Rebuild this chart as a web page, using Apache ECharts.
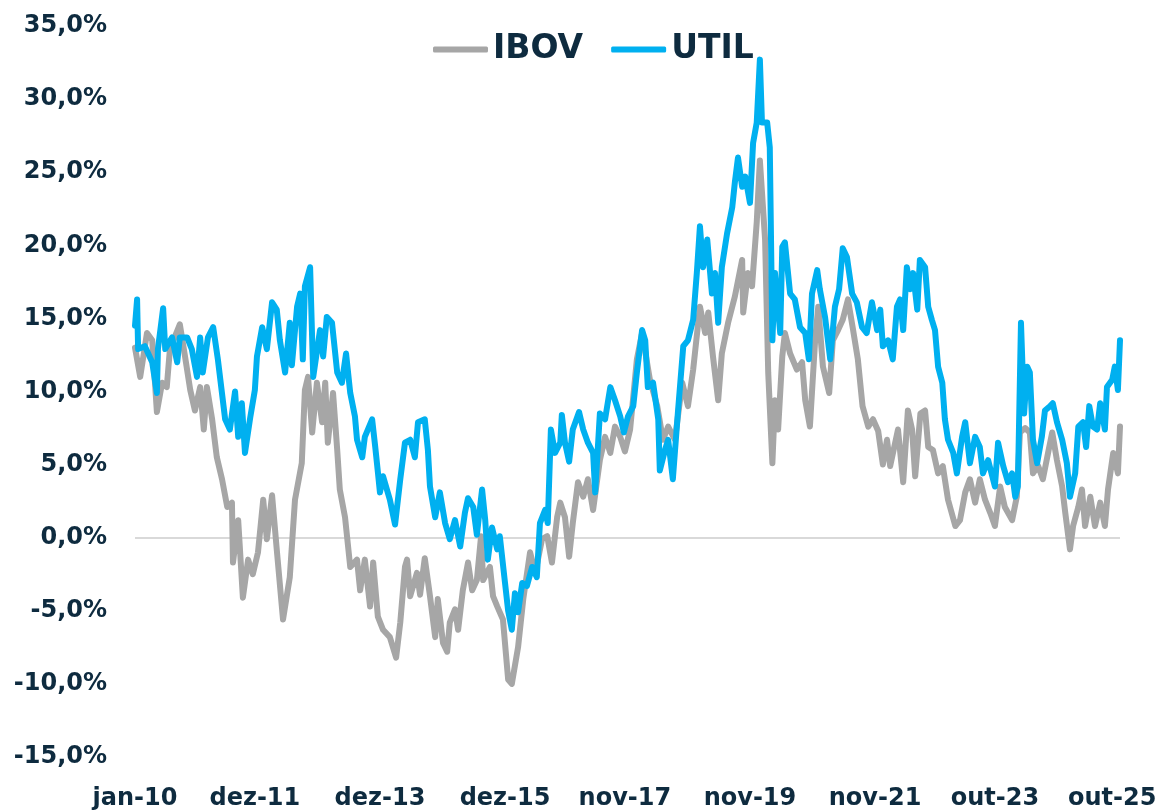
<!DOCTYPE html>
<html>
<head>
<meta charset="utf-8">
<script src="https://cdn.jsdelivr.net/npm/echarts@6/dist/echarts.min.js"></script>
<style>
  html, body { margin: 0; padding: 0; background: #fff; }
  #chart { width: 1171px; height: 811px; }
</style>
</head>
<body>
<div id="chart"></div>
<script>
// x = months since jan-10, y = % value
const tickMonths = [0, 23, 47, 71, 94, 118, 142, 165, 187.5];
const tickLabels = ['jan-10', 'dez-11', 'dez-13', 'dez-15', 'nov-17', 'nov-19', 'nov-21', 'out-23', 'out-25'];

const ibovT = [0, 1.0, 2.3, 3.3, 4.2, 5.2, 6.1, 6.7, 8.6, 9.6, 10.6, 11.5, 12.5, 13.2, 13.8, 14.8, 15.7, 16.7, 17.7, 18.6,
  18.8, 19.8, 20.7, 21.7, 22.6, 23.6, 24.6, 25.3, 26.3, 27.2, 28.4, 29.7, 30.7, 32.0, 32.6, 33.2, 34.0, 34.9, 35.9, 36.5,
  37.0, 38.0, 38.8, 39.3, 40.3, 41.3, 42.6, 43.2, 44.1, 45.1, 45.7, 46.6, 47.6, 48.9, 50.1, 50.9, 51.8, 52.2, 52.8, 54.1,
  54.7, 55.6, 56.6, 57.6, 58.1, 59.1, 59.9, 60.4, 61.4, 62.0, 62.9, 63.9, 64.7, 65.6, 66.4, 66.8, 68.1, 68.7, 69.5, 70.6,
  71.6, 72.3, 73.5, 74.5, 75.8, 76.8, 78.1, 79.1, 80.0, 81.0, 81.6, 82.5, 83.3, 84.0, 85.0, 86.0, 86.9, 87.9, 89.2, 90.2,
  91.2, 92.1, 93.1, 94.0, 95.0, 96.3, 97.3, 98.8, 100.2, 101.3, 102.3, 103.6, 105.0, 106.1, 107.1, 108.4, 109.4, 110.0, 110.9, 111.9,
  112.6, 113.8, 115.1, 116.5, 116.7, 117.6, 118.4, 119.3, 119.9, 120.9, 121.5, 122.3, 122.8, 123.4, 124.2, 124.7, 125.7, 127.0, 128.0, 128.6,
  129.5, 130.5, 131.1, 132.0, 133.2, 133.9, 134.9, 135.8, 136.8, 137.7, 138.7, 139.6, 140.7, 141.6, 142.6, 143.5, 144.3, 144.9, 146.4, 147.4,
  148.3, 149.1, 149.7, 150.7, 151.6, 152.2, 153.1, 154.1, 155.0, 156.0, 157.4, 158.3, 159.3, 160.2, 161.2, 162.1, 163.1, 164.1, 165.0, 166.0,
  166.9, 168.3, 169.2, 169.8, 170.8, 171.7, 172.3, 173.3, 174.2, 175.2, 176.0, 176.9, 177.9, 178.5, 179.4, 180.0, 181.0, 181.7, 182.3, 183.3,
  184.2, 185.2, 186.1, 186.7, 187.7, 188.6, 189.0];
const ibovV = [13.0, 11.0, 14.0, 13.5, 8.6, 10.6, 10.3, 12.9, 14.6, 12.4, 10.1, 8.7, 10.3, 7.4, 10.3, 8.1, 5.5, 4.0, 2.1, 2.4,
  -1.7, 1.2, -4.1, -1.5, -2.5, -1.0, 2.6, -0.1, 2.9, -0.8, -5.6, -2.7, 2.6, 5.1, 10.1, 11.0, 7.2, 10.6, 7.9, 10.6,
  6.5, 9.9, 6.0, 3.3, 1.4, -2.0, -1.5, -3.6, -1.5, -4.7, -1.7, -5.4, -6.3, -6.8, -8.2, -5.8, -2.0, -1.5, -4.0, -2.4,
  -3.9, -1.4, -4.0, -6.8, -4.2, -7.2, -7.8, -5.8, -4.9, -6.3, -3.6, -1.7, -3.6, -2.9, 0.1, -2.9, -2.0, -4.0, -4.7, -5.6,
  -9.7, -10.0, -7.5, -4.2, -1.0, -2.4, -0.1, 0.1, -1.7, 1.4, 2.4, 1.4, -1.3, 1.0, 3.8, 2.8, 4.0, 1.9, 5.3, 6.9,
  5.8, 7.6, 6.9, 5.9, 7.4, 12.2, 14.0, 10.8, 9.0, 6.7, 7.6, 6.7, 10.6, 9.0, 11.5, 15.8, 14.0, 15.4, 12.4, 9.4,
  12.6, 14.7, 16.5, 19.0, 15.4, 18.1, 17.2, 21.6, 25.8, 20.4, 11.3, 5.1, 9.4, 7.4, 12.4, 14.0, 12.6, 11.5, 12.0, 9.4,
  7.6, 13.5, 15.8, 11.7, 9.9, 13.5, 14.2, 14.9, 16.3, 14.4, 12.2, 9.0, 7.6, 8.1, 7.3, 5.0, 6.7, 4.9, 7.4, 3.8,
  8.7, 7.4, 4.2, 8.5, 8.7, 6.2, 6.0, 4.4, 4.9, 2.6, 0.8, 1.2, 3.1, 4.0, 2.4, 4.0, 2.6, 1.7, 0.8, 3.5,
  2.1, 1.2, 2.8, 7.2, 7.5, 7.2, 4.4, 4.9, 4.0, 5.8, 7.2, 5.3, 3.5, 1.7, -0.8, 0.8, 2.1, 3.3, 0.8, 2.8,
  0.8, 2.4, 0.8, 3.3, 5.8, 4.4, 7.6];

const utilT = [0, 0.4, 0.6, 1.9, 3.3, 4.2, 4.4, 5.4, 5.8, 7.1, 8.1, 8.6, 10.0, 10.9, 11.9, 12.5, 13.0, 14.0, 15.0, 15.9,
  17.3, 18.2, 19.2, 19.8, 20.5, 21.1, 22.1, 23.0, 23.4, 24.4, 25.3, 26.3, 27.2, 27.8, 28.8, 29.7, 30.1, 31.1, 31.7, 32.2,
  32.6, 33.6, 34.2, 35.5, 36.1, 36.8, 37.8, 38.8, 39.7, 40.5, 41.3, 42.2, 42.6, 43.6, 44.1, 45.5, 46.1, 46.6, 47.0, 47.6,
  48.9, 49.9, 50.9, 51.8, 52.8, 53.7, 54.3, 55.6, 56.2, 56.6, 57.6, 58.5, 59.5, 60.4, 61.4, 62.4, 63.3, 63.9, 64.9, 65.6,
  66.6, 67.2, 67.7, 68.5, 69.5, 70.0, 71.0, 71.6, 72.3, 72.9, 73.5, 74.3, 75.2, 76.2, 77.1, 77.7, 78.7, 79.2, 79.8, 80.6,
  81.6, 81.9, 82.5, 83.3, 84.0, 85.2, 86.0, 86.9, 87.9, 88.3, 89.2, 90.2, 91.2, 92.1, 93.1, 93.8, 94.6, 95.6, 96.3, 97.3,
  97.9, 98.4, 99.4, 100.4, 100.7, 101.7, 102.3, 103.2, 104.2, 105.2, 106.1, 107.1, 107.8, 108.4, 109.0, 109.8, 110.7, 111.3, 111.9, 112.6,
  113.6, 114.6, 115.1, 115.7, 116.5, 117.1, 118.0, 118.6, 119.3, 119.9, 120.3, 121.3, 121.8, 122.3, 122.8, 123.8, 124.2, 124.7, 125.7, 126.6,
  127.6, 128.6, 129.3, 129.9, 130.9, 131.4, 132.4, 133.4, 134.3, 135.1, 135.8, 136.6, 137.6, 138.5, 139.5, 140.4, 141.4, 142.4, 143.0, 143.5,
  144.5, 145.4, 146.2, 146.8, 147.4, 148.1, 148.7, 149.3, 150.1, 150.6, 151.6, 152.2, 152.9, 153.5, 154.1, 154.9, 155.4, 156.0, 157.0, 157.7,
  158.7, 159.3, 160.2, 161.2, 162.1, 162.7, 163.7, 165.0, 165.6, 166.6, 167.5, 168.3, 168.9, 169.4, 170.0, 170.6, 171.2, 171.7, 172.3, 173.1,
  174.0, 174.6, 175.6, 176.1, 176.9, 177.9, 178.8, 179.4, 180.4, 181.0, 181.9, 182.5, 183.1, 183.8, 184.6, 185.2, 186.1, 186.5, 187.5, 188.0,
  188.6, 189.0];
const utilV = [14.5, 16.3, 12.9, 13.1, 12.0, 9.9, 12.9, 15.7, 12.9, 13.7, 12.0, 13.7, 13.7, 12.9, 11.0, 13.7, 11.3, 13.7, 14.4, 12.2,
  8.1, 7.4, 10.0, 6.9, 9.2, 5.8, 8.2, 10.1, 12.4, 14.4, 12.9, 16.1, 15.6, 13.5, 11.3, 14.7, 11.8, 15.8, 16.7, 12.2,
  17.2, 18.5, 11.0, 14.2, 12.4, 15.1, 14.7, 11.3, 10.6, 12.6, 9.9, 8.3, 6.7, 5.5, 6.9, 8.1, 6.2, 4.5, 3.1, 4.2,
  2.6, 0.9, 4.0, 6.5, 6.7, 5.5, 7.9, 8.1, 6.0, 3.5, 1.4, 3.1, 1.0, -0.1, 1.2, -0.6, 1.7, 2.7, 2.1, 0.2,
  3.3, 1.2, -1.5, 0.7, -0.8, 0.1, -3.1, -5.0, -6.3, -3.8, -5.1, -3.1, -3.3, -2.0, -2.7, 1.0, 1.9, 1.0, 7.4, 5.8,
  6.5, 8.4, 6.5, 5.2, 7.4, 8.6, 7.4, 6.5, 5.8, 3.1, 8.5, 8.1, 10.3, 9.4, 8.3, 7.2, 8.3, 9.0, 11.3, 14.2,
  13.5, 10.3, 10.6, 8.1, 4.6, 6.0, 6.7, 4.0, 8.7, 13.1, 13.5, 14.9, 18.1, 21.3, 18.5, 20.4, 16.7, 18.1, 14.7, 18.5,
  20.8, 22.6, 24.3, 26.0, 24.0, 24.7, 22.9, 27.0, 28.4, 32.7, 28.4, 28.4, 26.7, 13.5, 18.1, 14.0, 19.9, 20.2, 16.7, 16.3,
  14.4, 14.0, 12.2, 16.7, 18.3, 17.0, 15.1, 12.2, 15.8, 17.0, 19.8, 19.2, 16.7, 16.1, 14.4, 14.0, 16.1, 14.2, 15.6, 13.1,
  13.5, 12.2, 15.8, 16.3, 14.2, 18.5, 17.0, 18.1, 15.6, 19.0, 18.5, 15.8, 14.9, 14.2, 11.7, 10.6, 8.1, 6.7, 5.8, 4.4,
  6.9, 7.9, 5.1, 6.9, 6.2, 4.4, 5.3, 3.5, 6.5, 4.9, 3.8, 4.4, 2.8, 3.5, 14.7, 8.5, 11.7, 11.3, 6.7, 5.1,
  6.9, 8.7, 9.0, 9.2, 7.9, 6.7, 5.1, 2.8, 4.4, 7.6, 7.9, 6.2, 9.0, 7.6, 7.4, 9.2, 7.4, 10.3, 10.8, 11.7,
  10.1, 13.5];

const zip = (t, v) => t.map((x, i) => [x, v[i]]);
const textColor = '#0e2b3f';
const fontFamily = '"DejaVu Sans", sans-serif';

const chart = echarts.init(document.getElementById('chart'));
chart.setOption({
  animation: false,
  backgroundColor: '#ffffff',
  legend: {
    left: 428,
    top: 28,
    icon: 'roundRect',
    itemWidth: 55,
    itemHeight: 6,
    itemGap: 28,
    textStyle: { color: textColor, fontSize: 33, fontWeight: 'bold', fontFamily: fontFamily },
    data: ['IBOV', 'UTIL']
  },
  grid: { left: 135, right: 51, top: 26, bottom: 54, containLabel: false },
  xAxis: {
    type: 'value',
    min: 0,
    max: 189,
    splitLine: { show: false },
    axisLine: { show: false },
    axisTick: { show: false },
    axisLabel: {
      customValues: tickMonths,
      formatter: (v) => {
        const i = tickMonths.findIndex((m) => Math.abs(m - v) < 0.01);
        return i >= 0 ? tickLabels[i] : '';
      },
      margin: 30,
      color: textColor,
      fontSize: 24,
      fontWeight: 'bold',
      fontFamily: fontFamily
    }
  },
  yAxis: {
    type: 'value',
    min: -15,
    max: 35,
    interval: 5,
    splitLine: { show: false },
    axisLine: { show: false },
    axisTick: { show: false },
    axisLabel: {
      formatter: (v) => v.toFixed(1).replace('.', ',') + '%',
      margin: 28,
      color: textColor,
      fontSize: 24,
      fontWeight: 'bold',
      fontFamily: fontFamily
    }
  },
  series: [
    {
      name: 'IBOV',
      type: 'line',
      symbol: 'none',
      data: zip(ibovT, ibovV),
      itemStyle: { color: '#a6a6a6' },
      lineStyle: { color: '#a6a6a6', width: 6, join: 'round', cap: 'round' },
      markLine: {
        silent: true,
        symbol: 'none',
        label: { show: false },
        lineStyle: { color: '#d9d9d9', width: 2, type: 'solid' },
        data: [{ yAxis: 0 }],
        z: 1
      }
    },
    {
      name: 'UTIL',
      type: 'line',
      symbol: 'none',
      data: zip(utilT, utilV),
      itemStyle: { color: '#00b0f0' },
      lineStyle: { color: '#00b0f0', width: 6, join: 'round', cap: 'round' }
    }
  ]
});
</script>
</body>
</html>
